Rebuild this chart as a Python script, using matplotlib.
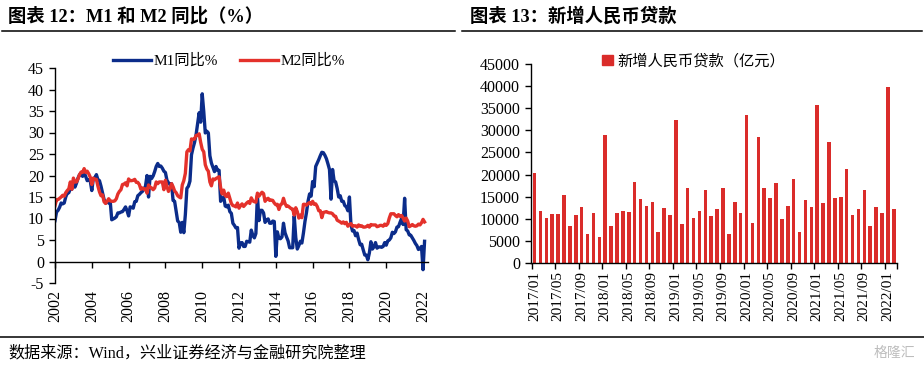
import matplotlib
matplotlib.use("Agg")
import matplotlib.pyplot as plt
import numpy as np
import pandas as pd
from matplotlib.lines import Line2D
from matplotlib.patches import Patch

plt.rcParams["font.family"] = ["Liberation Serif", "Noto Sans CJK SC"]
plt.rcParams["axes.unicode_minus"] = False

# M1 / M2 year-on-year growth, monthly from 2002-01 to 2022-02 (%)
m1_yoy = [
    9.5, 11.5, 11.9, 12.6, 13.6, 13.4, 13.6, 15.0, 15.9, 16.0, 16.9, 16.8,
    18.7, 17.3, 18.2, 19.4, 20.2, 20.2, 19.8, 20.7, 19.8, 18.8, 19.0, 18.7,
    16.5, 19.3, 19.5, 20.2, 19.0, 18.8, 17.5, 15.9, 14.4, 13.6, 13.9, 13.6,
    14.0, 9.7, 9.9, 10.1, 10.4, 11.3, 11.3, 11.5, 11.6, 12.1, 12.7, 11.8,
    10.6, 12.7, 12.6, 12.4, 13.9, 14.0, 15.3, 15.6, 16.0, 16.3, 16.8, 17.5,
    20.0, 15.0, 19.8, 19.3, 19.9, 20.9, 22.1, 22.8, 22.1, 22.2, 21.7, 21.0,
    20.7, 18.9, 18.3, 17.9, 18.1, 14.2, 14.0, 11.7, 9.4, 9.1, 6.8, 9.1,
    6.7, 10.9, 17.0, 17.5, 18.7, 24.8, 26.4, 27.7, 29.5, 32.0, 34.6, 32.4,
    39.0, 34.9, 29.9, 30.3, 29.9, 24.6, 22.9, 21.9, 20.9, 22.1, 21.2, 21.2,
    14.0, 14.5, 15.0, 12.9, 12.7, 13.1, 11.6, 11.2, 8.9, 8.4, 7.8, 7.9,
    3.1, 4.3, 4.4, 3.5, 3.5, 4.7, 4.6, 4.5, 7.3, 6.1, 5.5, 6.5,
    15.3, 9.5, 11.9, 11.9, 11.3, 9.1, 9.7, 9.9, 8.9, 8.9, 9.4, 9.3,
    1.2, 6.9, 5.4, 5.3, 5.7, 8.9, 6.7, 5.7, 4.8, 3.2, 3.2, 3.2,
    10.6, 5.6, 2.9, 3.7, 4.7, 4.3, 6.6, 9.3, 11.4, 14.0, 15.7, 15.2,
    18.6, 17.4, 22.1, 22.9, 23.7, 24.6, 25.4, 25.3, 24.7, 23.9, 22.7, 21.4,
    14.5, 21.4, 18.8, 18.5, 17.0, 15.0, 15.3, 14.0, 14.0, 13.0, 12.7, 11.8,
    15.0, 8.5, 7.1, 7.2, 6.0, 6.6, 5.1, 3.9, 4.0, 2.7, 1.5, 1.5,
    0.4, 2.0, 4.6, 2.9, 3.4, 4.4, 3.1, 3.4, 3.4, 3.3, 3.5, 4.4,
    3.8, 4.8, 5.0, 5.5, 6.8, 6.5, 6.9, 8.0, 8.1, 9.1, 10.0, 8.6,
    14.7, 7.4, 7.1, 6.2, 6.1, 5.5, 4.9, 4.2, 3.7, 2.8, 3.0, 3.5,
    -1.9, 4.7,
]
m2_yoy = [
    13.0, 14.4, 14.4, 14.7, 15.0, 15.4, 15.2, 16.0, 16.5, 16.9, 18.5, 16.8,
    19.4, 18.5, 18.5, 19.2, 20.2, 20.8, 20.7, 21.6, 20.7, 21.0, 20.4, 19.6,
    17.9, 19.4, 19.1, 19.1, 17.5, 16.2, 15.3, 15.5, 13.9, 13.5, 14.0, 14.6,
    14.1, 14.0, 14.0, 14.1, 14.6, 15.7, 16.3, 16.7, 17.9, 18.0, 18.3, 17.6,
    19.2, 18.8, 18.8, 18.9, 19.1, 18.4, 18.4, 17.9, 16.8, 17.1, 16.8, 16.9,
    15.9, 17.8, 17.3, 17.1, 16.7, 17.1, 18.5, 18.1, 18.5, 18.5, 18.5, 16.7,
    18.9, 17.5, 16.3, 16.9, 18.1, 17.4, 16.4, 16.0, 15.3, 15.0, 14.8, 17.8,
    18.8, 20.5, 25.5, 26.0, 25.7, 28.5, 28.4, 28.5, 29.3, 29.4, 29.7, 27.7,
    26.1, 25.5, 22.5, 21.5, 21.0, 18.5, 17.6, 19.2, 19.0, 19.3, 19.5, 19.7,
    17.2, 15.7, 16.6, 15.3, 15.1, 15.9, 14.7, 13.5, 13.0, 12.9, 12.7, 13.6,
    12.4, 13.0, 13.4, 12.8, 13.2, 13.6, 13.9, 13.5, 14.8, 14.1, 13.9, 13.8,
    15.9, 15.2, 15.7, 16.1, 15.8, 14.0, 14.5, 14.7, 14.2, 14.3, 14.2, 13.6,
    13.2, 13.3, 12.1, 13.2, 13.4, 14.7, 13.5, 12.8, 12.9, 12.6, 12.3, 12.2,
    10.8, 12.5, 11.6, 10.1, 10.8, 10.2, 13.3, 13.3, 13.1, 13.5, 13.7, 13.3,
    14.0, 13.3, 13.4, 12.8, 11.8, 11.8, 10.2, 11.4, 11.5, 11.6, 11.4, 11.3,
    11.3, 11.1, 10.6, 10.5, 9.6, 9.4, 9.2, 8.9, 9.2, 8.8, 9.1, 8.2,
    8.6, 8.8, 8.2, 8.3, 8.3, 8.0, 8.5, 8.2, 8.3, 8.0, 8.0, 8.1,
    8.4, 8.0, 8.6, 8.5, 8.5, 8.5, 8.1, 8.2, 8.4, 8.4, 8.2, 8.7,
    8.4, 8.8, 10.1, 11.1, 11.1, 11.1, 10.7, 10.4, 10.9, 10.5, 10.7, 10.1,
    9.4, 10.1, 9.4, 8.1, 8.3, 8.6, 8.3, 8.2, 8.3, 8.7, 8.5, 9.0,
    9.8, 9.2,
]
m_start_year = 2002
year_ticks = list(range(2002, 2023, 2))

# new RMB loans, monthly from 2017-01 to 2022-02 (100 million yuan)
new_loans = [
    20300, 11700, 10200, 11000, 11100, 15400, 8255, 10900, 12700, 6632, 11200, 5844,
    29000, 8393, 11200, 11800, 11500, 18400, 14500, 12800, 13800, 6970, 12500, 10800,
    32300, 8858, 16900, 10200, 11800, 16600, 10600, 12100, 16900, 6613, 13900, 11400,
    33400, 9057, 28500, 17000, 14800, 18100, 9927, 12800, 19000, 6898, 14300, 12600,
    35800, 13600, 27300, 14700, 15000, 21200, 10800, 12200, 16600, 8262, 12700, 11300,
    39800, 12300,
]
loan_months = pd.date_range("2017-01-01", periods=len(new_loans), freq="MS").strftime("%Y/%m").tolist()

BLUE = "#0B2C8A"
RED = "#E4312B"
BAR = "#DA2C2A"
W, H = 924, 366

fig = plt.figure(figsize=(W / 100, H / 100), dpi=100)


def fx(px):
    return px / W


def fy(py):
    return 1 - py / H


# titles and rules
title_kw = dict(fontsize=13.2, fontweight="bold", va="center", ha="left")
fig.text(fx(8), fy(16), "图表 12：M1 和 M2 同比（%）", **title_kw)
fig.text(fx(470), fy(16), "图表 13：新增人民币贷款", **title_kw)
fig.add_artist(Line2D([fx(2), fx(455)], [fy(30.5), fy(30.5)], transform=fig.transFigure, color="black", lw=1.1))
fig.add_artist(Line2D([fx(462), fx(922)], [fy(30.5), fy(30.5)], transform=fig.transFigure, color="black", lw=1.1))
fig.add_artist(Line2D([fx(0), fx(924)], [fy(337), fy(337)], transform=fig.transFigure, color="black", lw=1.1))
fig.text(fx(8), fy(353), "数据来源：Wind，兴业证券经济与金融研究院整理", fontsize=11.6, va="center", ha="left")
fig.text(fx(915), fy(353), "格隆汇", fontsize=10, color="#BDBDBD", va="center", ha="right",
         family=["Noto Sans CJK SC"])

# left panel: M1 / M2
ax1 = fig.add_axes([fx(55), fy(283), fx(428) - fx(55), fy(68) - fy(283)])
x = m_start_year + np.arange(len(m1_yoy)) / 12
ax1.plot(x, m1_yoy, color=BLUE, lw=2.4, label="M1同比%")
ax1.plot(x, m2_yoy, color=RED, lw=2.4, label="M2同比%")
ax1.set_xlim(2002, 2022.27)
ax1.set_ylim(-5, 45)
ax1.set_yticks(range(-5, 46, 5))
for s in ("top", "right"):
    ax1.spines[s].set_visible(False)
ax1.spines["bottom"].set_position(("data", 0))
ax1.spines["bottom"].set_linewidth(1.0)
ax1.spines["left"].set_linewidth(1.0)
ax1.set_xticks(year_ticks)
ax1.tick_params(axis="x", direction="out", length=4, width=1, labelbottom=False)
ax1.tick_params(axis="y", direction="out", length=4, width=1, labelsize=11.5, pad=4)
sec = ax1.secondary_xaxis(0)
sec.set_xticks(year_ticks)
sec.set_xticklabels([str(y) for y in year_ticks], rotation=90)
sec.tick_params(length=0, labelsize=11.5, pad=5)
sec.spines["bottom"].set_visible(False)
fig.legend(handles=ax1.get_lines(), loc="center", bbox_to_anchor=(fx(229), fy(61)), ncol=2,
           frameon=False, fontsize=11, handlelength=2.5, handletextpad=0.2, columnspacing=1.4,
           borderpad=0)

# right panel: new RMB loans
ax2 = fig.add_axes([fx(531), fy(263), fx(897) - fx(531), fy(64) - fy(263)])
idx = np.arange(len(new_loans))
ax2.bar(idx, new_loans, width=0.6, color=BAR, label="新增人民币贷款（亿元）")
ax2.set_xlim(-0.6, len(new_loans) - 0.45)
ax2.set_ylim(0, 45000)
ax2.set_yticks(range(0, 45001, 5000))
for s in ("top", "right"):
    ax2.spines[s].set_visible(False)
ax2.spines["bottom"].set_linewidth(1.0)
ax2.spines["left"].set_linewidth(1.0)
ax2.set_xticks(idx[::4])
ax2.set_xticklabels(loan_months[::4], rotation=90)
ax2.set_xticks(np.append(idx[::4] - 0.5, len(new_loans) - 0.5), minor=True)
ax2.tick_params(axis="x", which="major", length=0, labelsize=11, pad=6)
ax2.tick_params(axis="x", which="minor", direction="out", length=4, width=1)
ax2.tick_params(axis="y", direction="out", length=4, width=1, labelsize=11.5, pad=4)
fig.legend(handles=[Patch(color=BAR, label="新增人民币贷款（亿元）")], loc="center",
           bbox_to_anchor=(fx(694), fy(61)), frameon=False, fontsize=11,
           handlelength=0.7, handleheight=0.7, handletextpad=0.3, borderpad=0)

fig.savefig("out.png", dpi=100)
